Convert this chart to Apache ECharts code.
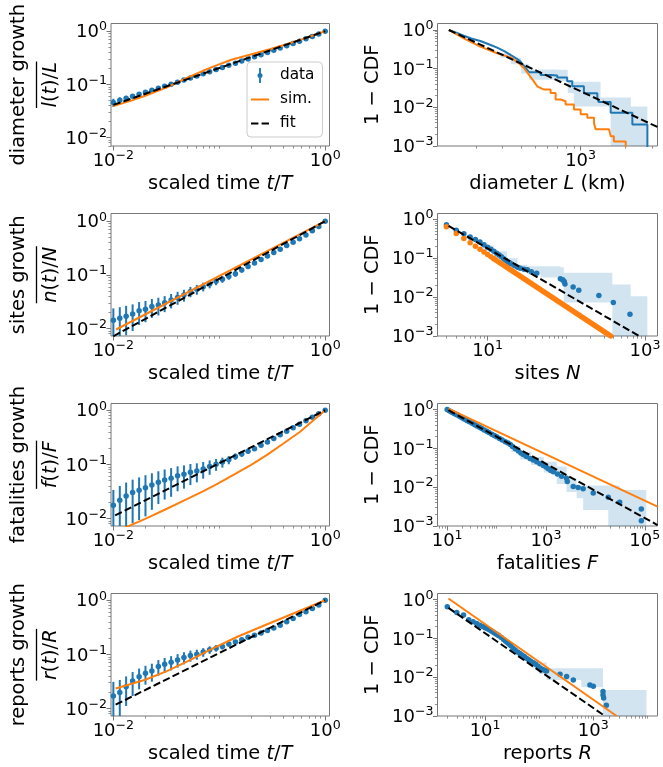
<!DOCTYPE html>
<html><head><meta charset="utf-8">
<script src="https://cdn.jsdelivr.net/npm/echarts@6/dist/echarts.min.js"></script>
<style>html,body{margin:0;padding:0;background:#fff}#c{width:663px;height:767px}</style>
</head><body><div id="c"></div>
<script>
// ================= DATA =================
const tGrid = [0.0100,0.0115,0.0132,0.0152,0.0175,0.0201,0.0231,0.0266,0.0305,0.0351,0.0404,0.0464,0.0534,0.0614,0.0705,0.0811,0.0933,0.107,0.123,0.142,0.163,0.187,0.215,0.248,0.285,0.327,0.376,0.433,0.498,0.572,0.658,0.756,0.870,1.000];

// diameter growth
const diamGrowth = [0.0457,0.0501,0.0547,0.0597,0.0652,0.0711,0.0776,0.0847,0.0925,0.1009,0.1102,0.1202,0.1312,0.1439,0.1578,0.1730,0.1897,0.2080,0.2280,0.2500,0.2742,0.3006,0.3296,0.3614,0.3963,0.4365,0.4808,0.5297,0.5861,0.6486,0.7178,0.7980,0.8872,1.0];
const diamGrowthErr = [0.008,0.007,0.006,0.005,0.0045,0.004,0.0035,0.003,0.003,0.0025,0.0025,0.002,0.002,0.002,0.002,0.002,0.002,0.002,0.002,0.002,0.002,0.002,0.002,0.002,0.002,0.002,0.002,0.002,0.002,0.001,0.001,0.001,0.001,0];
const diamSimT = [0.01,0.015,0.02,0.032,0.05,0.07,0.094,0.13,0.21,0.3,0.4,0.6,0.8,1.0];
const diamSimY = [0.039,0.050,0.061,0.088,0.134,0.18,0.228,0.29,0.375,0.46,0.545,0.70,0.855,1.0];
const diamGrowthFit = [[0.01,0.0411],[1,1]];

// sites growth
const sitesGrowth = [0.0143,0.0155,0.0170,0.0186,0.0214,0.0229,0.0257,0.0275,0.0302,0.0339,0.0380,0.0422,0.0490,0.0537,0.0603,0.0676,0.0759,0.0832,0.0933,0.1047,0.123,0.143,0.166,0.193,0.224,0.260,0.302,0.351,0.407,0.473,0.556,0.661,0.794,1.0];
const sitesGrowthErr = [0.0094,0.0095,0.0095,0.0096,0.0097,0.0098,0.0099,0.01,0.01,0.0102,0.0103,0.0105,0.0107,0.011,0.0112,0.0115,0.0118,0.012,0.0122,0.0125,0.0125,0.0125,0.0125,0.0125,0.012,0.0115,0.011,0.01,0.009,0.008,0.006,0.004,0.002,0];
const sitesSimT = [0.0106,1.0];
const sitesSimY = [0.0096,1.0];
const sitesGrowthFit = [[0.01,0.00718],[1,1]];

// fatalities growth
const fatGrowth = [0.0175,0.0217,0.0261,0.0301,0.0333,0.0369,0.0414,0.0465,0.0513,0.0551,0.0618,0.0655,0.0713,0.0755,0.0824,0.0912,0.1007,0.1099,0.1213,0.1400,0.1549,0.1738,0.1950,0.2249,0.2600,0.3020,0.3508,0.4074,0.4732,0.5495,0.6383,0.7413,0.8610,1.0];
const fatGrowthErr = [0.016,0.018,0.02,0.022,0.024,0.026,0.027,0.028,0.029,0.03,0.03,0.03,0.03,0.029,0.028,0.027,0.025,0.023,0.021,0.019,0.017,0.015,0.013,0.011,0.009,0.008,0.007,0.006,0.005,0.004,0.003,0.002,0.001,0];
const fatSimT = [0.0105,0.0132,0.02,0.032,0.05,0.07,0.094,0.14,0.2,0.28,0.4,0.58,0.75,1.0];
const fatSimY = [0.0054,0.0069,0.0098,0.0151,0.0229,0.0315,0.0425,0.066,0.098,0.148,0.24,0.40,0.62,1.0];
const fatGrowthFit = [[0.0104,0.01138],[1,1]];

// reports growth
const repGrowth = [0.0170,0.0196,0.0251,0.0320,0.0385,0.0445,0.0492,0.0593,0.0655,0.0714,0.0789,0.0873,0.0951,0.1007,0.1099,0.1213,0.1303,0.1400,0.1549,0.1687,0.1866,0.2065,0.2249,0.2489,0.2748,0.3083,0.3459,0.3990,0.4613,0.5470,0.6138,0.7079,0.8185,1.0];
const repGrowthErr = [0.014,0.014,0.014,0.015,0.016,0.017,0.018,0.019,0.02,0.021,0.022,0.022,0.022,0.021,0.02,0.019,0.018,0.017,0.016,0.015,0.014,0.012,0.011,0.01,0.009,0.008,0.007,0.006,0.005,0.004,0.003,0.002,0.001,0];
const repSimT = [0.0105,0.02,0.032,0.05,0.088,0.15,0.28,0.5,1.0];
const repSimY = [0.0234,0.0339,0.049,0.0741,0.130,0.214,0.356,0.569,1.0];
const repGrowthFit = [[0.0105,0.0117],[1,1]];

// diameter CCDF: smooth head + step tail
const diamCcdfHeadL = [131,150,165,185,213,245,276,310,339,370,396,420,450];
const diamCcdfHeadP = [1.0,0.82,0.71,0.6,0.52,0.42,0.35,0.28,0.226,0.185,0.153,0.115,0.081];
const diamCcdfTailL = [450,539,629,697,813,879,1052,1294,1320,1590,2221,2800];
const diamCcdfTailP = [0.081,0.069,0.0665,0.059,0.047,0.035,0.023,0.018,0.0138,0.0072,0.0036,0.0005];
const diamSimHeadL = [131,165,213,276,339,385,417,450,486,512,568];
const diamSimHeadP = [1.0,0.61,0.37,0.25,0.195,0.139,0.104,0.07,0.047,0.035,0.0288];
const diamSimTailL = [568,629,680,735,793,902,1000,1109,1230,1260,1550,1590,1670,2005];
const diamSimTailP = [0.0288,0.0236,0.0159,0.0144,0.0119,0.0088,0.0066,0.0054,0.0038,0.0027,0.0025,0.0018,0.0013,0.0005];
const diamCcdfFit = [[131,1.0],[3273,0.0031]];
const diamBandX  = [290,340,400,450,700,820,900,1360,1590,2170,2800];
const diamBandLo = [0.19,0.13,0.075,0.052,0.047,0.023,0.0105,0.0105,0.001,0.001];
const diamBandHi = [0.25,0.19,0.13,0.095,0.093,0.05,0.046,0.018,0.018,0.0105];

// sites CCDF
const sitesCcdfN = [3,4,5,6,7,8,9,10,11,12,13,14,15,16,17,18,19,20,22,24,26,29,32,36,42,84,90,94,96,122,144,259,395,643];
const sitesCcdfP = [0.72,0.52,0.42,0.35,0.30,0.26,0.22,0.19,0.168,0.15,0.133,0.12,0.108,0.097,0.088,0.081,0.076,0.071,0.064,0.058,0.055,0.052,0.05,0.045,0.041,0.0296,0.028,0.025,0.0218,0.018,0.015,0.011,0.0072,0.0036];
const sitesSimN = [3,4,5,6,7,8,9,10,11,12];
const sitesSimP = [0.64,0.432,0.319,0.249,0.202,0.168,0.143,0.124,0.109,0.0968];
const sitesSimTail = [[12,0.0968],[366,0.001]];
const sitesCcdfFit = [[3.19,0.676],[840,0.001]];
const sitesBandX  = [8.5,12,17.7,24,32,47,84,93,384,656,1070];
const sitesBandLo = [0.15,0.1,0.065,0.05,0.038,0.032,0.022,0.0072,0.001,0.001];
const sitesBandHi = [0.21,0.15,0.1,0.068,0.062,0.062,0.058,0.042,0.021,0.0105];

// fatalities CCDF
const fatCcdfF = [10,11,12,13,14,15,16,18,20,22,25,28,32,36,40,45,50,56,63,70,80,90,100,115,130,150,170,190,210,240,276,310,347,400,475,550,648,750,883,1000,1115,1250,1406,1700,2070,2610,2700,3560,4480,5650,9040,18200,31000,85000,85000];
const fatCcdfP = [1.0,0.934,0.879,0.831,0.789,0.751,0.718,0.661,0.614,0.574,0.525,0.485,0.442,0.407,0.378,0.348,0.323,0.298,0.275,0.255,0.232,0.214,0.199,0.18,0.165,0.149,0.137,0.126,0.112,0.097,0.085,0.076,0.069,0.062,0.055,0.05,0.045,0.040,0.036,0.033,0.030,0.027,0.025,0.022,0.019,0.017,0.0139,0.0104,0.0098,0.0091,0.0071,0.0055,0.0041,0.00275,0.00137];
const fatSimLine = [[10.6,1.06],[180700,0.00316]];
const fatCcdfFit = [[10.6,0.96],[180700,0.00106]];
const fatBandX  = [200,300,500,900,1650,2610,4170,5650,18200,31000,107000];
const fatBandLo = [0.08,0.052,0.037,0.024,0.012,0.0075,0.0052,0.0026,0.001,0.001];
const fatBandHi = [0.115,0.08,0.06,0.045,0.034,0.017,0.011,0.011,0.011,0.0085];

// reports CCDF
const repCcdfR = [2,3,4,5,6,7,8,9,10,11,12,13,14,15,16,17,18,20,22,24,26,28,30,33,36,40,44,48,53,58,64,70,78,86,95,105,115,125,137,242,321,427,865,1000,1510,1510,1550,1740];
const repCcdfP = [0.649,0.463,0.398,0.302,0.266,0.240,0.219,0.202,0.187,0.176,0.166,0.155,0.146,0.138,0.130,0.123,0.116,0.105,0.0933,0.0841,0.0767,0.0708,0.0646,0.0550,0.0501,0.0447,0.0407,0.0372,0.0339,0.0309,0.0282,0.0257,0.0237,0.0214,0.0191,0.0170,0.0158,0.0151,0.0145,0.0119,0.0104,0.0085,0.0063,0.0058,0.0043,0.0035,0.0029,0.0019];
const repSimLine = [[2.1,1.06],[2700,0.001]];
const repCcdfFit = [[2.1,0.61],[1637,0.001]];
const repBandX  = [75,100,137,600,1510,9600];
const repBandLo = [0.017,0.012,0.0085,0.0055,0.001];
const repBandHi = [0.027,0.024,0.017,0.017,0.0047];

// tick values
const growthXLabels = [0.01, 1];
const growthYLabels = [0.01, 0.1, 1];
const ccdfYLabels = [0.001, 0.01, 0.1, 1];
const diamXLabels = [1000];
const sitesXLabels = [10, 1000];
const fatXLabels = [10, 1000, 100000];
const repXLabels = [10, 1000];

// ================= STYLE / HELPERS =================
const FONT = "'DejaVu Sans', sans-serif";
const INK = '#000';
const SPINE = '#777';
const BLUE = '#1f77b4', ORANGE = '#ff7f0e', BAND = 'rgba(31,119,180,0.2)';
const DASH = [7.4, 3.2];
const NAME_FS = 19.4;

const measureCtx = document.createElement('canvas').getContext('2d');
function textW(s, italic) {
  measureCtx.font = (italic ? 'italic ' : '') + NAME_FS + "px 'DejaVu Sans'";
  return measureCtx.measureText(s).width;
}

const RICH_TICK = {
  b: {fontFamily: FONT, fontSize: 18, color: INK, verticalAlign: 'bottom'},
  s: {fontFamily: FONT, fontSize: 12.6, color: INK, verticalAlign: 'bottom', padding: [0, 0, 8, 0]}
};
function tickLabel(v) {
  const e = Math.round(Math.log10(v));
  return '{b|10}{s|' + (e < 0 ? '\u2212' + (-e) : String(e)) + '}';
}
function nameStyle(lh, barW) {
  return {
    fontFamily: FONT, fontSize: NAME_FS, color: INK, lineHeight: lh,
    rich: {
      n: {fontFamily: FONT, fontSize: NAME_FS, color: INK, lineHeight: lh},
      i: {fontFamily: FONT, fontSize: NAME_FS, color: INK, lineHeight: lh, fontStyle: 'italic'},
      m: {fontFamily: FONT, fontSize: NAME_FS, color: INK, lineHeight: 22},
      mi: {fontFamily: FONT, fontSize: NAME_FS, color: INK, lineHeight: 22, fontStyle: 'italic'},
      bar: {fontSize: 1, width: barW || 10, height: 1.3, lineHeight: 7, backgroundColor: INK}
    }
  };
}
function minorTicks(lo, hi) {
  const out = [];
  for (let k = Math.floor(Math.log10(lo)) - 1; k <= Math.ceil(Math.log10(hi)); k++) {
    for (let m = 1; m <= 9; m++) {
      const v = +(m * Math.pow(10, k)).toPrecision(6);
      if (v >= lo && v <= hi) out.push(v);
    }
  }
  return out;
}

const grids = [], xAxes = [], yAxes = [], minorX = [], minorY = [], series = [];
const COLS = [111, 437.5], WIDTHS = [218.5, 220];
const TOPS = [23.5, 213.5, 403.5, 593.5], H = 122.5;

function addPanel(idx, row, col, xr, yr, xLab, yLab, xName, yName, yGap, yLH, barW) {
  grids.push({left: COLS[col], top: TOPS[row], width: WIDTHS[col], height: H,
    show: true, borderColor: SPINE, borderWidth: 1, backgroundColor: 'transparent',
    containLabel: false, outerBoundsMode: 'none'});
  const base = (kind, r, lab, name, gap, lh, bw) => ({
    type: 'log', logBase: 10, gridIndex: idx, min: r[0], max: r[1],
    position: kind === 'x' ? 'bottom' : 'left',
    axisLine: {show: false}, splitLine: {show: false}, minorTick: {show: false},
    axisTick: {show: true, inside: false, length: 4.5, customValues: lab,
      lineStyle: {color: SPINE, width: 1}},
    axisLabel: {show: true, customValues: lab, formatter: tickLabel, rich: RICH_TICK,
      margin: kind === 'x' ? 3 : 4, hideOverlap: false},
    name: name, nameLocation: 'middle', nameGap: gap, nameMoveOverlap: false,
    nameTextStyle: nameStyle(lh, bw)
  });
  xAxes.push(base('x', xr, xLab, xName, 26, 24));
  yAxes.push(base('y', yr, yLab, yName, yGap, yLH, barW));
  const minor = (kind, r) => ({
    type: 'log', logBase: 10, gridIndex: idx, min: r[0], max: r[1],
    position: kind === 'x' ? 'bottom' : 'left',
    axisLine: {show: false}, splitLine: {show: false},
    axisTick: {show: true, inside: false, length: 2.6,
      customValues: minorTicks(r[0], r[1]).filter(v => !(kind === 'x' ? xLab : yLab).includes(v)),
      lineStyle: {color: SPINE, width: 0.8}},
    axisLabel: {show: false}
  });
  minorX.push(minor('x', xr));
  minorY.push(minor('y', yr));
}

function pairs(xs, ys) { return xs.map((x, i) => [x, ys[i]]); }
function lineS(idx, name, data, color, dashed, extra) {
  return Object.assign({type: 'line', name: name, xAxisIndex: idx, yAxisIndex: idx,
    data: data, symbol: 'none', showSymbol: false, animation: false, silent: true,
    z: dashed ? 6 : 5, clip: true,
    lineStyle: {color: color, width: 2, type: dashed ? DASH : 'solid'},
    itemStyle: {color: color}}, extra || {});
}
function dotsS(idx, name, data, color, size, z) {
  return {type: 'scatter', name: name, xAxisIndex: idx, yAxisIndex: idx, data: data,
    symbol: 'circle', symbolSize: size, itemStyle: {color: color, opacity: 1},
    animation: false, silent: true, z: z, clip: true};
}
function errS(idx, t, v, e, ymin) {
  return {type: 'custom', xAxisIndex: idx, yAxisIndex: idx, silent: true, z: 3, animation: false,
    data: t.map((x, i) => [x, Math.max(v[i] - e[i], ymin), v[i] + e[i]]),
    renderItem: (params, api) => {
      const a = api.coord([api.value(0), api.value(1)]);
      const b = api.coord([api.value(0), api.value(2)]);
      return {type: 'line', shape: {x1: a[0], y1: a[1], x2: b[0], y2: b[1]},
        style: {stroke: BLUE, lineWidth: 2}};
    }};
}
function bandS(idx, xs, lo, hi, ymin) {
  return {type: 'custom', xAxisIndex: idx, yAxisIndex: idx, silent: true, z: 1, animation: false,
    data: [[xs[0], hi[0]]],
    renderItem: (params, api) => {
      const up = [], dn = [];
      for (let i = 0; i < lo.length; i++) {
        up.push(api.coord([xs[i], hi[i]]), api.coord([xs[i + 1], hi[i]]));
        const l = Math.max(lo[i], ymin);
        dn.push(api.coord([xs[i], l]), api.coord([xs[i + 1], l]));
      }
      return {type: 'polygon', shape: {points: up.concat(dn.reverse())}, style: {fill: BAND}};
    }};
}

const GX = [0.0095, 1.098];
const xTime = '{n|scaled time }{i|t}{n|/}{i|T}';
const yCdf = '{n|1 \u2212 CDF}';
function growName(w, v, V) {
  return '{n|' + w + ' growth}\n{bar| }\n{mi|' + v + '}{m|(}{mi|t}{m|)/}{mi|' + V + '}';
}
function barWidth(v, V) {
  return textW(v, true) + textW('(', false) + textW('t', true) + textW(')/', false) + textW(V, true) + 1;
}
const Y_GAP = 49, Y_LH = 28;

// ---- panel 0: diameter growth
addPanel(0, 0, 0, GX, [0.00695, 1.393], growthXLabels, growthYLabels, xTime, growName('diameter', 'l', 'L'), Y_GAP, Y_LH, barWidth('l', 'L'));
series.push(errS(0, tGrid, diamGrowth, diamGrowthErr, 0.00695));
series.push(dotsS(0, 'data', pairs(tGrid, diamGrowth), BLUE, 5.5, 4));
series.push(lineS(0, 'sim.', pairs(diamSimT, diamSimY), ORANGE, false));
series.push(lineS(0, 'fit', diamGrowthFit, '#000', true));
// ---- panel 1: diameter CCDF
addPanel(1, 0, 1, [110, 3273], [0.001, 1.47], diamXLabels, ccdfYLabels, '{n|diameter }{i|L}{n| (km)}', yCdf, 53, 24);
series.push(bandS(1, diamBandX, diamBandLo, diamBandHi, 0.001));
series.push(lineS(1, 'd1a', pairs(diamCcdfHeadL, diamCcdfHeadP), BLUE, false, {z: 4}));
series.push(lineS(1, 'd1b', pairs(diamCcdfTailL, diamCcdfTailP), BLUE, false, {step: 'end', z: 4}));
series.push(lineS(1, 's1a', pairs(diamSimHeadL, diamSimHeadP), ORANGE, false));
series.push(lineS(1, 's1b', pairs(diamSimTailL, diamSimTailP), ORANGE, false, {step: 'end'}));
series.push(lineS(1, 'f1', diamCcdfFit, '#000', true));
// ---- panel 2: sites growth
addPanel(2, 1, 0, GX, [0.00726, 1.393], growthXLabels, growthYLabels, xTime, growName('sites', 'n', 'N'), Y_GAP, Y_LH, barWidth('n', 'N'));
series.push(errS(2, tGrid, sitesGrowth, sitesGrowthErr, 0.00726));
series.push(dotsS(2, 'd2', pairs(tGrid, sitesGrowth), BLUE, 5.5, 4));
series.push(lineS(2, 's2', pairs(sitesSimT, sitesSimY), ORANGE, false));
series.push(lineS(2, 'f2', sitesGrowthFit, '#000', true));
// ---- panel 3: sites CCDF
addPanel(3, 1, 1, [2.31, 1439], [0.001, 1.4], sitesXLabels, ccdfYLabels, '{n|sites }{i|N}', yCdf, 53, 24);
series.push(bandS(3, sitesBandX, sitesBandLo, sitesBandHi, 0.001));
series.push(dotsS(3, 'd3', pairs(sitesCcdfN, sitesCcdfP), BLUE, 5.5, 3));
series.push(dotsS(3, 's3', pairs(sitesSimN, sitesSimP), ORANGE, 5.5, 4));
series.push(lineS(3, 's3b', sitesSimTail, ORANGE, false, {lineStyle: {color: ORANGE, width: 5.5, cap: 'round'}, z: 4}));
series.push(lineS(3, 'f3', sitesCcdfFit, '#000', true));
// ---- panel 4: fatalities growth
addPanel(4, 2, 0, GX, [0.00724, 1.334], growthXLabels, growthYLabels, xTime, growName('fatalities', 'f', 'F'), Y_GAP, Y_LH, barWidth('f', 'F'));
series.push(errS(4, tGrid, fatGrowth, fatGrowthErr, 0.00724));
series.push(dotsS(4, 'd4', pairs(tGrid, fatGrowth), BLUE, 5.5, 4));
series.push(lineS(4, 's4', pairs(fatSimT, fatSimY), ORANGE, false));
series.push(lineS(4, 'f4', fatGrowthFit, '#000', true));
// ---- panel 5: fatalities CCDF
addPanel(5, 2, 1, [6.37, 180700], [0.001, 1.43], fatXLabels, ccdfYLabels, '{n|fatalities }{i|F}', yCdf, 53, 24);
series.push(bandS(5, fatBandX, fatBandLo, fatBandHi, 0.001));
series.push(dotsS(5, 'd5', pairs(fatCcdfF, fatCcdfP), BLUE, 5.5, 3));
series.push(lineS(5, 's5', fatSimLine, ORANGE, false));
series.push(lineS(5, 'f5', fatCcdfFit, '#000', true));
// ---- panel 6: reports growth
addPanel(6, 3, 0, GX, [0.00724, 1.334], growthXLabels, growthYLabels, xTime, growName('reports', 'r', 'R'), Y_GAP, Y_LH, barWidth('r', 'R'));
series.push(errS(6, tGrid, repGrowth, repGrowthErr, 0.00724));
series.push(dotsS(6, 'd6', pairs(tGrid, repGrowth), BLUE, 5.5, 4));
series.push(lineS(6, 's6', pairs(repSimT, repSimY), ORANGE, false));
series.push(lineS(6, 'f6', repGrowthFit, '#000', true));
// ---- panel 7: reports CCDF
addPanel(7, 3, 1, [1.32, 15350], [0.001, 1.43], repXLabels, ccdfYLabels, '{n|reports }{i|R}', yCdf, 53, 24);
series.push(bandS(7, repBandX, repBandLo, repBandHi, 0.001));
series.push(dotsS(7, 'd7', pairs(repCcdfR, repCcdfP), BLUE, 5.5, 3));
series.push(lineS(7, 's7', repSimLine, ORANGE, false));
series.push(lineS(7, 'f7', repCcdfFit, '#000', true));

const ERR_ICON = 'path://M-1,-8L1,-8L1,8L-1,8Z M0,-2.7A2.7,2.7 0 1,1 0,2.7A2.7,2.7 0 1,1 0,-2.7Z';
const LINE_ICON = 'path://M0,0L18,0L18,2L0,2Z';
const DASH_ICON = 'path://M0,0L7.4,0L7.4,2L0,2Z M10.6,0L18,0L18,2L10.6,2Z';

const chart = echarts.init(document.getElementById('c'), null, {renderer: 'canvas'});
chart.setOption({
  animation: false,
  backgroundColor: '#fff',
  textStyle: {fontFamily: FONT},
  grid: grids,
  xAxis: xAxes.concat(minorX),
  yAxis: yAxes.concat(minorY),
  legend: {
    orient: 'vertical', left: 247, top: 62, selectedMode: false,
    data: [
      {name: 'data', icon: ERR_ICON, itemStyle: {color: BLUE}},
      {name: 'sim.', icon: LINE_ICON, itemStyle: {color: ORANGE}},
      {name: 'fit', icon: DASH_ICON, itemStyle: {color: '#000'}}
    ],
    itemWidth: 18, itemHeight: 15, itemGap: 9,
    padding: [6, 8, 6, 4], borderColor: '#ccc', borderWidth: 1, borderRadius: 4,
    backgroundColor: 'rgba(255,255,255,0.8)',
    textStyle: {fontFamily: FONT, fontSize: 15.3, color: INK, padding: [0, 0, 0, 6]}
  },
  series: series
});
</script>
</body></html>
